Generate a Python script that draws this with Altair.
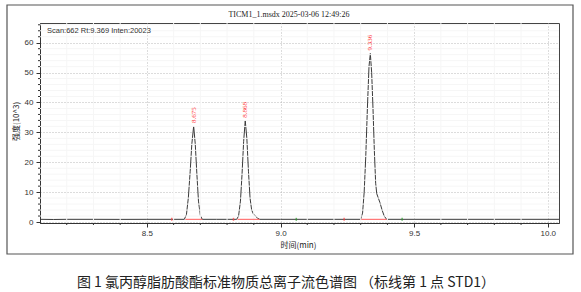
import altair as alt
import pandas as pd

# ---- data ----
time_min = [8.10, 8.15, 8.20, 8.30, 8.40, 8.50, 8.60, 8.640,
            8.648, 8.655, 8.662, 8.668, 8.675, 8.681, 8.687, 8.693, 8.700, 8.707,
            8.760, 8.836, 8.843, 8.850, 8.856, 8.862, 8.868, 8.874, 8.880, 8.886,
            8.892, 8.898, 8.906, 8.914, 8.922, 9.000, 9.100, 9.200, 9.300,
            9.307, 9.313, 9.319, 9.325, 9.331, 9.336, 9.341, 9.346, 9.351, 9.356,
            9.360, 9.366, 9.372, 9.380, 9.388, 9.397, 9.500, 9.700, 9.900, 10.042]
intensity = [0.9, 0.85, 0.9, 0.9, 0.88, 0.9, 0.9, 0.9,
             2.5, 8.0, 17.0, 26.0, 32.1, 26.0, 16.0, 7.0, 2.2, 0.9,
             0.9, 0.9, 2.0, 7.0, 16.0, 27.0, 33.9, 28.0, 17.0, 8.0,
             4.0, 2.8, 2.0, 1.3, 0.9, 0.9, 0.9, 0.9, 0.9,
             3.0, 10.0, 22.0, 38.0, 52.0, 56.4, 50.0, 38.0, 24.0, 13.0,
             9.5, 8.0, 6.5, 4.0, 2.0, 0.9, 0.9, 0.9, 0.9, 0.9]

peak_rt = [8.675, 8.868, 9.336]
peak_height = [32.1, 33.9, 56.4]
peak_labels = ["8.675", "8.868", "9.336"]

integ_start = [8.644, 8.839, 9.302]
integ_end = [8.707, 8.922, 9.397]
integ_level = [0.9, 0.9, 0.9]

red_marks = [8.593, 8.824, 9.238]
green_marks = [9.059, 9.455]
mark_level = 0.9

x_major = [8.5, 9.0, 9.5, 10.0]
x_minor = [8.2, 8.3, 8.4, 8.6, 8.7, 8.8, 8.9, 9.1, 9.2, 9.3, 9.4,
           9.6, 9.7, 9.8, 9.9]
y_major = [0, 10, 20, 30, 40, 50, 60]
y_minor = [2, 4, 6, 8, 12, 14, 16, 18, 22, 24, 26, 28, 32, 34, 36, 38,
           42, 44, 46, 48, 52, 54, 56, 58, 62, 64, 66]

header_text = "TICM1_1.msdx 2025-03-06 12:49:26"
scan_text = "Scan:662  Rt:9.369  Inten:20023"
caption_text = "图 1 氯丙醇脂肪酸酯标准物质总离子流色谱图  （标线第 1 点 STD1）"
x_title = "时间(min)"
y_title = "强度(10^3)"

# ---- chart ----
W, H = 519, 200
xs = alt.Scale(domain=[8.1, 10.042], nice=False, zero=False)
ys = alt.Scale(domain=[-0.33, 66.6], nice=False, zero=False)

x_axis = alt.Axis(
    values=x_major, format=".1f", title=x_title, labelOverlap=False,
    grid=True, gridColor="#b8b8b8", gridDash=[1, 2], gridWidth=1,
    tickSize=4, tickColor="#333", domainColor="#333",
    labelFont="Liberation Sans", labelFontSize=8, labelColor="#333", labelPadding=2,
    titleFont="Noto Sans CJK SC", titleFontSize=8, titleFontWeight="normal",
    titleColor="#222", titleX=258, titleY=22, titleAlign="center",
    titleBaseline="middle")
y_axis = alt.Axis(
    values=y_major, format="d", title=y_title, labelOverlap=False,
    grid=True, gridColor="#b8b8b8", gridDash=[1, 2], gridWidth=1,
    tickSize=4, tickColor="#333", domainColor="#333",
    labelFont="Liberation Sans", labelFontSize=8, labelColor="#333", labelPadding=3,
    titleFont="Noto Sans CJK SC", titleFontSize=8, titleFontWeight="normal",
    titleColor="#222", titleX=-24, titleY=98, titleAngle=270,
    titleAlign="center", titleBaseline="middle")

trace_df = pd.DataFrame({"t": time_min, "v": intensity})
peaks_df = pd.DataFrame({"t": peak_rt, "v": peak_height, "lab": peak_labels})
integ_df = pd.DataFrame({"t": integ_start, "t2": integ_end, "v": integ_level})
red_df = pd.DataFrame({"t": red_marks, "v": [mark_level] * len(red_marks)})
green_df = pd.DataFrame({"t": green_marks, "v": [mark_level] * len(green_marks)})
xmin_df = pd.DataFrame({"t": x_minor})
ymin_df = pd.DataFrame({"v": y_minor})
one = pd.DataFrame({"a": [0]})

X = alt.X("t:Q", scale=xs, axis=x_axis)
Y = alt.Y("v:Q", scale=ys, axis=y_axis)

trace = alt.Chart(trace_df).mark_line(color="#3a3a3a", strokeWidth=1).encode(x=X, y=Y)

minor_vgrid = alt.Chart(xmin_df).mark_rule(color="#f6f6f6", strokeWidth=1).encode(
    x=X, y=alt.value(0), y2=alt.value(H))
minor_hgrid = alt.Chart(ymin_df).mark_rule(color="#f6f6f6", strokeWidth=1).encode(
    y=Y, x=alt.value(0), x2=alt.value(W))

x_minor_ticks = alt.Chart(xmin_df).mark_rule(color="#333", strokeWidth=1).encode(
    x=X, y=alt.value(H), y2=alt.value(H + 2))
y_minor_ticks = alt.Chart(ymin_df).mark_rule(color="#333", strokeWidth=1).encode(
    y=Y, x=alt.value(-2), x2=alt.value(0))

integ = alt.Chart(integ_df).mark_rule(color="#ff5a5a", strokeWidth=1).encode(
    x=X, x2="t2:Q", y=Y)

red_ticks = alt.Chart(red_df).mark_tick(color="#ff4040", orient="vertical",
                                         size=3, thickness=1.5).encode(x=X, y=Y)
green_ticks = alt.Chart(green_df).mark_tick(color="#2a9a2a", orient="vertical",
                                             size=3, thickness=1.5).encode(x=X, y=Y)

peak_text = alt.Chart(peaks_df).mark_text(
    angle=270, align="left", baseline="middle", yOffset=-3,
    color="#ff3030", fontSize=7, font="Liberation Serif").encode(
    x=X, y=Y, text="lab:N")

header = alt.Chart(one).mark_text(
    text=header_text, font="Liberation Serif", fontSize=8, color="#222",
    align="center", baseline="middle").encode(
    x=alt.value(249), y=alt.value(-8))
scan = alt.Chart(one).mark_text(
    text=scan_text, font="Liberation Sans", fontSize=7.5, color="#333",
    align="left", baseline="middle").encode(
    x=alt.value(7), y=alt.value(8))
caption = alt.Chart(one).mark_text(
    text=caption_text, font="Noto Sans CJK SC", fontSize=14, color="#222",
    align="center", baseline="middle").encode(
    x=alt.value(246), y=alt.value(260))
frame = alt.Chart(one).mark_rect(
    fillOpacity=0, stroke="#555", strokeWidth=1.2).encode(
    x=alt.value(-33), x2=alt.value(533), y=alt.value(-18), y2=alt.value(231))

chart = alt.layer(
    trace, minor_vgrid, minor_hgrid, integ, red_ticks, green_ticks,
    x_minor_ticks, y_minor_ticks, peak_text, header, scan, caption, frame
).properties(
    width=W, height=H,
    autosize=alt.AutoSizeParams(type="none"),
    padding={"left": 40, "top": 23, "right": 22, "bottom": 69},
    background="white",
).configure_view(stroke="#444", strokeWidth=1)

chart.save("out.html", embed_options={"renderer": "svg", "actions": False})
